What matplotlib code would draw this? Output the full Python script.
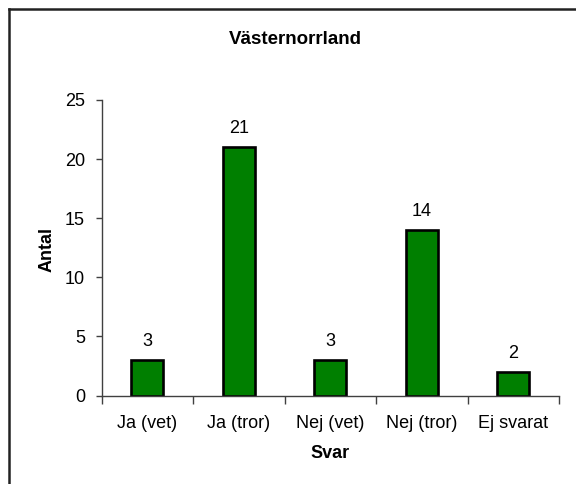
import matplotlib.pyplot as plt
from matplotlib.lines import Line2D
from matplotlib.ticker import FixedLocator

plt.rcParams['font.family'] = ['Liberation Sans', 'DejaVu Sans']

svar = ['Ja (vet)', 'Ja (tror)', 'Nej (vet)', 'Nej (tror)', 'Ej svarat']
antal = [3, 21, 3, 14, 2]
y_ticks = [0, 5, 10, 15, 20, 25]

W, H = 576, 484
fig = plt.figure(figsize=(5.76, 4.84), dpi=100)
ax = fig.add_axes([101.7 / W, 1 - 395.5 / H, (559 - 101.7) / W, (395.5 - 100) / H])

x = list(range(len(svar)))
bars = ax.bar(x, antal, width=0.35, color='#007f00', edgecolor='black', linewidth=1.9)

# value labels above bars
for xi, v in zip(x, antal):
    ax.annotate(str(v), (xi, v), xytext=(0, 10), textcoords='offset points',
                ha='center', va='baseline', fontsize=13)

ax.set_xlim(-0.5, len(svar) - 0.5)
ax.set_ylim(0, 25)
ax.set_yticks(y_ticks)
ax.set_xticks(x)
ax.set_xticklabels(svar, fontsize=13)
ax.xaxis.set_minor_locator(FixedLocator([i - 0.5 for i in range(len(svar) + 1)]))
ax.tick_params(axis='x', which='major', length=0, pad=14)
ax.tick_params(axis='x', which='minor', length=6, width=1, color='#404040')
ax.tick_params(axis='y', length=4, width=1, color='#404040', labelsize=13, pad=8)

for s in ['top', 'right']:
    ax.spines[s].set_visible(False)
for s in ['left', 'bottom']:
    ax.spines[s].set_color('#404040')
    ax.spines[s].set_linewidth(1)

fig.text(330.5 / W, 1 - 454 / H, 'Svar', ha='center', va='center',
         fontsize=13, fontweight='bold')
fig.text(46.7 / W, 1 - 250 / H, 'Antal', ha='center', va='center', rotation=90,
         fontsize=13, fontweight='bold')
fig.text(295.7 / W, 1 - 39 / H, 'Västernorrland', ha='center', va='center',
         fontsize=13.5, fontweight='bold')

# chart area border (only top and left visible)
bx = 8.5 / W
by = 1 - 9 / H
fig.add_artist(Line2D([bx, bx], [0, by], transform=fig.transFigure, color='#222222', linewidth=1.8))
fig.add_artist(Line2D([bx, 1], [by, by], transform=fig.transFigure, color='#222222', linewidth=1.8))

fig.savefig('out.png', dpi=100)
